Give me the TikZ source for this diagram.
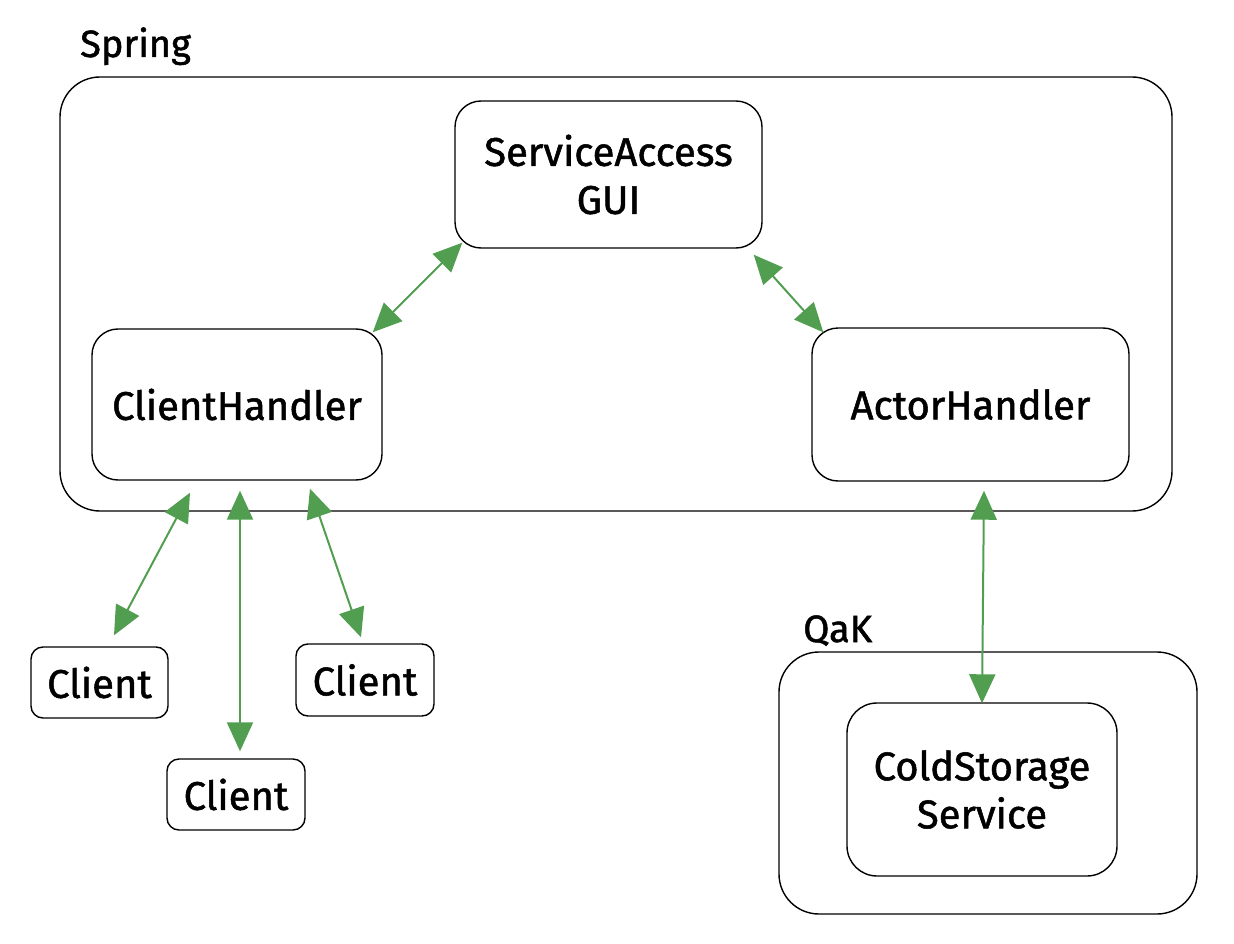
\documentclass[tikz,border=0pt]{standalone}
\usepackage{fontspec}
\setmainfont{Fira Sans}
\newfontfamily\handfont{Fira Sans}[FakeBold=1.3]
\usetikzlibrary{arrows.meta,calc}
\definecolor{arrowgreen}{RGB}{82,158,80}
\begin{document}
\begin{tikzpicture}[x=1pt,y=-1pt,
  container/.style={draw=black,line width=1.4pt,rounded corners=40pt,inner sep=0pt},
  box/.style={draw=black,line width=1.4pt,rounded corners=26pt,inner sep=0pt,align=center,
    font=\handfont\fontsize{40}{48}\selectfont},
  smallbox/.style={draw=black,line width=1.4pt,rounded corners=12pt,inner sep=0pt,align=center,
    font=\handfont\fontsize{40}{48}\selectfont},
  grouplabel/.style={anchor=base west,inner sep=0pt,font=\handfont\fontsize{38}{44}\selectfont},
  link/.style={draw=arrowgreen,line width=2pt,
    {Triangle[length=29pt,width=26pt]}-{Triangle[length=29pt,width=26pt]}}
]
\useasboundingbox (0,0) rectangle (1234,944);
% containers
\node[container,minimum width=1112pt,minimum height=434pt] (spring) at (616,294) {};
\node[grouplabel] (springlbl) at (80,57) {Spring};
\node[container,minimum width=418pt,minimum height=262pt] (qak) at (988,783) {};
\node[grouplabel] (qaklbl) at (803,642) {QaK};
% boxes
\node[box,minimum width=307pt,minimum height=147pt] (sa) at (608.5,174.5) {ServiceAccess\\GUI};
\node[box,minimum width=290pt,minimum height=151pt] (ch) at (237,404.5) {ClientHandler};
\node[box,minimum width=317pt,minimum height=153pt] (ah) at (970.5,404.5) {ActorHandler};
\node[box,rounded corners=30pt,minimum width=270pt,minimum height=173pt] (cs) at (982,789.5) {ColdStorage\\Service};
\node[smallbox,minimum width=137pt,minimum height=71pt] (c1) at (99.5,682.5) {Client};
\node[smallbox,minimum width=138pt,minimum height=71pt] (c2) at (236,794.5) {Client};
\node[smallbox,minimum width=138pt,minimum height=72pt] (c3) at (365,680) {Client};
% connector ends
\coordinate (chA) at ($(ch.north east)+(-10,4)$);
\coordinate (saA) at ($(sa.south west)+(8,-6)$);
\coordinate (saB) at ($(sa.south east)+(-9,6)$);
\coordinate (ahA) at ($(ah.north west)+(12,5)$);
\coordinate (ch1) at ($(ch.south)+(-47,12)$);
\coordinate (ch2) at ($(ch.south)+(3,10)$);
\coordinate (ch3) at ($(ch.south)+(73,8)$);
\coordinate (c1A) at ($(c1.north)+(14.5,-11)$);
\coordinate (c2A) at ($(c2.north)+(4,-7)$);
\coordinate (c3A) at ($(c3.north)+(-4,-6)$);
\coordinate (ahB) at ($(ah.south)+(13.5,9)$);
\coordinate (csA) at ($(cs.north)+(0,1)$);
% connectors
\draw[link] (chA) -- (saA);
\draw[link] (saB) -- (ahA);
\draw[link] (ch1) -- (c1A);
\draw[link] (ch2) -- (c2A);
\draw[link] (ch3) -- (c3A);
\draw[link] (ahB) -- (csA);
\end{tikzpicture}
\end{document}
